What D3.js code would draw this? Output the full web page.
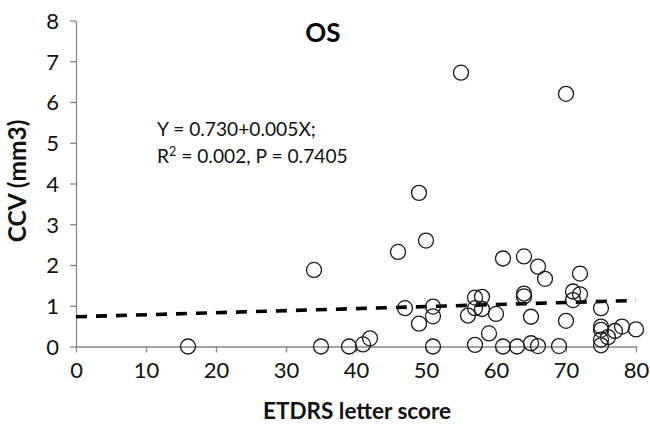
<!DOCTYPE html>
<html>
<head>
<meta charset="utf-8">
<script src="https://cdn.jsdelivr.net/npm/d3@7"></script>
<style>
  html, body { margin: 0; padding: 0; background: #fff; }
  svg { display: block; font-family: "Lato", "Open Sans", sans-serif; }
</style>
</head>
<body>
<svg id="chart" width="650" height="427"></svg>
<script>
// ETDRS letter score (x) and CCV in mm3 (y), one entry per eye
const letterScore = [16, 34, 35, 39, 41, 42, 46, 47, 49, 49, 50, 51, 51, 51, 55, 56, 57, 57, 57, 58,
                     58, 59, 60, 61, 61, 63, 64, 64, 64, 65, 65, 66, 66, 67, 69, 70, 70, 71, 71, 72,
                     72, 75, 75, 75, 75, 75, 76, 77, 78, 80];
const ccv = [0.00, 1.88, 0.00, 0.00, 0.05, 0.20, 2.32, 0.94, 3.77, 0.56, 2.60, 0.98, 0.74, 0.00, 6.72, 0.76, 1.20, 0.94, 0.04, 1.22,
             0.92, 0.32, 0.80, 2.16, 0.00, 0.00, 2.21, 1.30, 1.23, 0.73, 0.08, 1.96, 0.01, 1.66, 0.01, 6.20, 0.63, 1.35, 1.14, 1.79,
             1.28, 0.94, 0.49, 0.41, 0.17, 0.03, 0.23, 0.38, 0.49, 0.42];

// linear fit Y = a + bX
const fitIntercept = 0.730;
const fitSlope = 0.005;

const xTicks = [0, 10, 20, 30, 40, 50, 60, 70, 80];
const yTicks = [0, 1, 2, 3, 4, 5, 6, 7, 8];

const chartTitle = "OS";
const xTitle = "ETDRS letter score";
const yTitle = "CCV (mm3)";
const fitLine1 = "Y = 0.730+0.005X;";

const svg = d3.select("#chart");

const x = d3.scaleLinear().domain([0, 80]).range([76, 636]);
const y = d3.scaleLinear().domain([0, 8]).range([346.5, 20.5]);

const axisColor = "#878787";

// y axis
const gy = svg.append("g")
  .attr("transform", `translate(${x(0)},0)`)
  .call(d3.axisLeft(y).tickValues(yTicks).tickSize(6).tickSizeOuter(0).tickPadding(11)
    .tickFormat(d3.format("d")));
// x axis
const gx = svg.append("g")
  .attr("transform", `translate(0,${y(0)})`)
  .call(d3.axisBottom(x).tickValues(xTicks).tickSize(6).tickSizeOuter(0).tickPadding(10)
    .tickFormat(d3.format("d")));

[gx, gy].forEach(g => {
  g.select(".domain").attr("stroke", axisColor).attr("stroke-width", 1.3);
  g.selectAll(".tick line").attr("stroke", axisColor).attr("stroke-width", 1.3);
  g.selectAll(".tick text").attr("fill", "#111").attr("font-size", 22)
    .attr("font-family", "Lato, 'Open Sans', sans-serif");
});
gy.selectAll(".tick text").attr("dy", "0.36em");
gx.selectAll(".tick text").attr("dy", "0.72em");

// regression line
const fitXs = [0, 80];
svg.append("line")
  .attr("x1", x(fitXs[0])).attr("y1", y(fitIntercept + fitSlope * fitXs[0]))
  .attr("x2", x(fitXs[1])).attr("y2", y(fitIntercept + fitSlope * fitXs[1]))
  .attr("stroke", "#000").attr("stroke-width", 3.6)
  .attr("stroke-dasharray", "11,9");

// data points
svg.append("g").selectAll("circle")
  .data(d3.range(letterScore.length))
  .join("circle")
  .attr("cx", i => x(letterScore[i]))
  .attr("cy", i => y(ccv[i]))
  .attr("r", 7.5)
  .attr("fill", "none")
  .attr("stroke", "#1a1a1a")
  .attr("stroke-width", 1.3);

// title
svg.append("text")
  .attr("x", 323).attr("y", 42)
  .attr("text-anchor", "middle")
  .attr("font-weight", "bold").attr("font-size", 26)
  .attr("fill", "#000")
  .text(chartTitle);

// fit annotation
const ann = svg.append("g").attr("font-size", 19.2).attr("fill", "#111");
ann.append("text").attr("x", 157).attr("y", 136).text(fitLine1);
const l2 = ann.append("text").attr("x", 157).attr("y", 163);
l2.append("tspan").text("R");
l2.append("tspan").attr("font-size", 12.5).attr("dy", -7.5).text("2");
l2.append("tspan").attr("dy", 7.5).text(" = 0.002, P = 0.7405");

// axis titles
svg.append("text")
  .attr("x", x(40) + 1).attr("y", 419)
  .attr("text-anchor", "middle")
  .attr("font-weight", "bold").attr("font-size", 22.5)
  .attr("fill", "#111")
  .text(xTitle);

svg.append("text")
  .attr("transform", `translate(26,181) rotate(-90)`)
  .attr("text-anchor", "middle")
  .attr("font-weight", "bold").attr("font-size", 24.5)
  .attr("fill", "#111")
  .text(yTitle);
</script>
</body>
</html>
